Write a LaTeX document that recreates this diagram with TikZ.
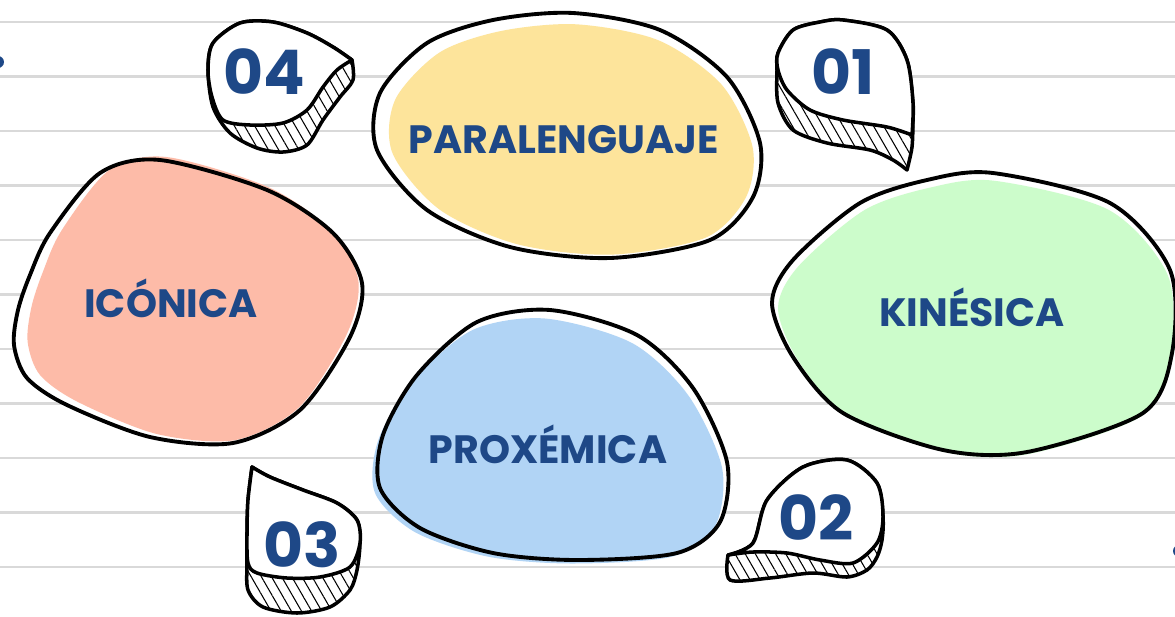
\documentclass[tikz,border=0pt]{standalone}
\usepackage{fontspec}
\setmainfont{Poppins}
\usepackage{tikz}
\usetikzlibrary{patterns.meta}

\definecolor{inkblue}{RGB}{30,72,135}
\definecolor{paperline}{RGB}{217,217,217}
\definecolor{parafill}{RGB}{253,228,155}
\definecolor{kinefill}{RGB}{204,252,203}
\definecolor{iconfill}{RGB}{253,187,168}
\definecolor{proxfill}{RGB}{177,212,245}

\tikzset{
    rule/.style={draw=paperline, line width=1.6pt},
    blobline/.style={draw=black, line width=2.2pt, line join=round},
    dropbase/.style={draw=black, line width=2pt, line join=round,
        preaction={fill=white},
        pattern={Lines[angle=-60,distance=5pt,line width=0.6pt]}},
    dropface/.style={draw=black, line width=2pt, line join=round, fill=white},
    labeltext/.style={anchor=base, text=inkblue, inner sep=0pt,
        font=\bfseries\fontsize{22.5}{26}\selectfont},
    numtext/.style={anchor=base, text=inkblue, inner sep=0pt,
        font=\bfseries\fontsize{35}{40}\selectfont},
}

% outlines of the four blobs
\newcommand\paraline{plot[smooth cycle] coordinates {(573,13) (660,30) (727,77) (760,143) (753,197) (710,240) (610,258) (510,247) (427,210) (377,150) (380,93) (427,43) (493,20)}}
\newcommand\kineline{plot[smooth cycle] coordinates {(993,173) (1110,203) (1170,270) (1172,353) (1143,413) (1027,452) (943,450) (843,413) (793,357) (772,303) (793,260) (860,203) (927,180)}}
\newcommand\iconline{plot[smooth cycle] coordinates {(160,160) (267,190) (333,233) (362,283) (350,337) (300,410) (233,443) (150,437) (67,405) (27,378) (14,345) (18,310) (30,275) (50,233) (100,173)}}
\newcommand\proxline{plot[smooth cycle] coordinates {(550,310) (637,335) (693,388) (727,462) (720,522) (677,553) (577,560) (493,553) (420,528) (380,488) (383,435) (417,375) (477,322)}}

\begin{document}
\begin{tikzpicture}[x=0.02cm, y=-0.02cm]
	\useasboundingbox (0,0) rectangle (1175,616);
	\clip (0,0) rectangle (1175,616);
	\fill[white] (0,0) rectangle (1175,616);
	\foreach \k in {0,...,10}
		\draw[rule] (0,22+54.5*\k) -- (1175,22+54.5*\k);
	\fill[inkblue] (-2,62) circle (6);
	\fill[inkblue] (1179,551) circle (6);

	% blobs
	\fill[white] \paraline;
	\begin{scope}[shift={(572,139)}, scale=0.94, shift={(-568,-135)}]
		\fill[parafill] \paraline;
	\end{scope}
	\draw[blobline] \paraline;

	\fill[white] \kineline;
	\begin{scope}[shift={(974,317)}, scale=0.98, shift={(-972,-312)}]
		\fill[kinefill] \kineline;
	\end{scope}
	\draw[blobline] \kineline;

	\fill[white] \iconline;
	\begin{scope}[shift={(192,298)}, xscale=0.95, shift={(-187,-301)}]
		\fill[iconfill] \iconline;
	\end{scope}
	\draw[blobline] \iconline;

	\fill[white] \proxline;
	\begin{scope}[shift={(548,441)}, yscale=0.98, shift={(-553,-435)}]
		\fill[proxfill] \proxline;
	\end{scope}
	\draw[blobline] \proxline;

	\node[labeltext] (para) at (564,153) {PARALENGUAJE};
	\node[labeltext] (icon) at (171,317) {ICÓNICA};
	\node[labeltext] (kine) at (972,326) {KINÉSICA};
	\node[labeltext] (prox) at (548,463) {PROXÉMICA};

	% numbered drops
	\draw[dropbase] plot[smooth] coordinates {(352,60) (333,47) (307,33) (273,22) (240,23) (213,43) (208,70) (213,107) (230,133) (257,148) (283,152) (307,145) (323,120) (340,97) (353,80) (352,60)} -- cycle;
	\draw[dropface] plot[smooth] coordinates {(352,60) (333,47) (307,33) (273,22) (240,23) (213,43) (208,70) (212,97) (223,120) (250,125) (283,123) (307,110) (323,87) (337,70) (352,60)} -- cycle;
	\node[numtext] (n04) at (264,94) {04};

	\draw[dropbase] plot[smooth] coordinates {(907,170) (912,147) (913,120) (913,103) (907,60) (887,30) (843,20) (820,22) (793,30) (778,53) (777,70) (778,103) (793,130) (827,143) (870,150) (893,160) (907,170)} -- cycle;
	\draw[dropface] plot[smooth] coordinates {(912,135) (913,103) (907,60) (887,30) (843,20) (820,22) (793,30) (778,53) (778,70) (787,90) (810,110) (843,120) (887,127) (912,135)} -- cycle;
	\node[numtext] (n01) at (843,94) {01};

	\draw[dropbase] plot[smooth] coordinates {(252,467) (270,477) (303,490) (337,503) (357,520) (360,543) (357,570) (350,590) (330,607) (297,613) (263,607) (248,590) (247,563) (247,533) (248,500) (252,467)} -- cycle;
	\draw[dropface] plot[smooth] coordinates {(252,467) (270,477) (303,490) (337,503) (357,520) (360,543) (350,567) (320,577) (287,578) (257,573) (248,563) (247,533) (248,500) (252,467)} -- cycle;
	\node[numtext] (n03) at (302,567) {03};

	\draw[dropbase] plot[smooth] coordinates {(728,555) (753,543) (767,500) (803,467) (847,460) (877,483) (883,517) (882,540) (877,557) (867,570) (847,577) (813,573) (770,578) (730,580) (728,555)} -- cycle;
	\draw[dropface] plot[smooth] coordinates {(728,555) (753,543) (767,500) (803,467) (847,460) (877,483) (883,517) (877,543) (853,563) (820,560) (787,553) (753,552) (728,555)} -- cycle;
	\node[numtext] (n02) at (816,540) {02};
\end{tikzpicture}
\end{document}
